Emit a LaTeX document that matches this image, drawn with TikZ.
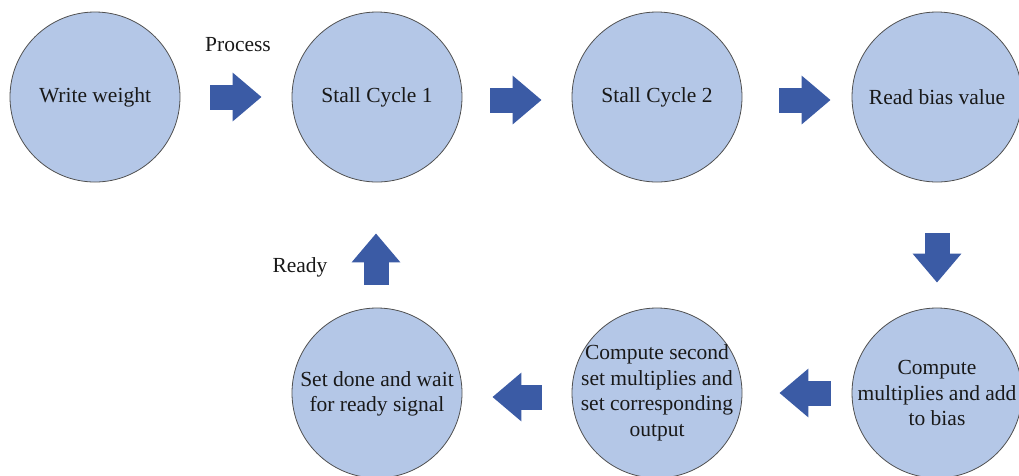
\documentclass[tikz,border=0pt]{standalone}
\usepackage{fontspec}
\setmainfont{Liberation Serif}
\usetikzlibrary{arrows.meta}
\definecolor{circfill}{HTML}{B4C7E7}
\definecolor{circline}{HTML}{505050}
\definecolor{arrowblue}{HTML}{3B5BA5}
\tikzset{
  state/.style={circle, minimum size=170pt, inner sep=0pt, fill=circfill, draw=circline, line width=0.8pt},
  stxt/.style={align=center, inner sep=0pt, font=\fontsize{21.5}{25.5}\selectfont, text=black!90},
  blk/.style={draw=arrowblue, line width=25pt, line cap=butt,
    -{Triangle[width=47pt, length=29pt, fill=arrowblue]}},
  lbl/.style={font=\fontsize{21.5}{25.5}\selectfont, inner sep=0pt, text=black!90}
}
\begin{document}
\begin{tikzpicture}[x=1pt,y=-1pt]
\useasboundingbox (0,0) rectangle (1019,475);
\clip (0,0) rectangle (1019,475);
\node[state] (w)  at (95,97)  {};
\node[state] (s1) at (377,97) {};
\node[state] (s2) at (657,97) {};
\node[state] (r)  at (937,97) {};
\node[state] (c1) at (937,393) {};
\node[state] (c2) at (657,393) {};
\node[state] (d)  at (377,393) {};

\node[stxt] (wt)  at (w)  {Write weight};
\node[stxt] (s1t) at (s1) {Stall Cycle 1};
\node[stxt] (s2t) at (s2) {Stall Cycle 2};
\node[stxt] (rt)  at (r)  {Read bias value};
\node[stxt] (c1t) at (c1) {Compute\\multiplies and add\\to bias};
\node[stxt] (c2t) at (c2) {Compute second\\set multiplies and\\set corresponding\\output};
\node[stxt] (dt)  at ([yshift=-1pt]d.center) {Set done and wait\\for ready signal};

\node[lbl] (process) at (238,45) {Process};
\node[lbl] (ready) at (300,267) {Ready};

\draw[blk, shorten <=30pt, shorten >=30pt] (w.east) -- (s1.west);
\draw[blk, shorten <=28pt, shorten >=30pt] ([yshift=-3pt]s1.east) -- ([yshift=-3pt]s2.west);
\draw[blk, shorten <=37pt, shorten >=21pt] ([yshift=-3pt]s2.east) -- ([yshift=-3pt]r.west);
\draw[blk, shorten <=51pt, shorten >=25pt] (r.south) -- (c1.north);
\draw[blk, shorten <=21pt, shorten >=37pt] (c1.west) -- (c2.east);
\draw[blk, shorten <=30pt, shorten >=30pt] ([yshift=-4pt]c2.west) -- ([yshift=-4pt]d.east);
\draw[blk, shorten <=23pt, shorten >=51pt] ([xshift=-1pt]d.north) -- ([xshift=-1pt]s1.south);
\end{tikzpicture}
\end{document}
